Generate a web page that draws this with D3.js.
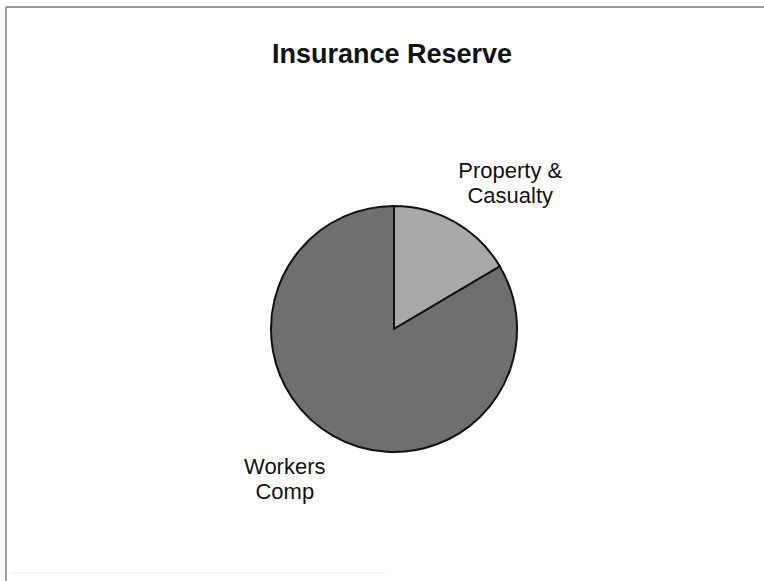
<!DOCTYPE html>
<html>
<head>
<meta charset="utf-8">
<script src="https://cdn.jsdelivr.net/npm/d3@7"></script>
<style>
  html, body { margin: 0; padding: 0; background: #fff; }
  svg { display: block; font-family: "Liberation Sans", Arial, sans-serif; }
</style>
</head>
<body>
<svg id="chart"></svg>
<script>
// data
const categories = ["Property & Casualty", "Workers Comp"];
const labelLines = [["Property &", "Casualty"], ["Workers", "Comp"]];
const values = [16.5, 83.5];
const colors = ["#a8a8a8", "#6f6f6f"];

const width = 764, height = 581;
const cx = 394, cy = 329, radius = 123;

const svg = d3.select("#chart")
    .attr("width", width)
    .attr("height", height);

// frame lines (chart border)
svg.append("line")
    .attr("x1", 6).attr("y1", 7).attr("x2", width).attr("y2", 7)
    .attr("stroke", "#9a9a9a").attr("stroke-width", 2);
svg.append("line")
    .attr("x1", 6).attr("y1", 7).attr("x2", 6).attr("y2", height)
    .attr("stroke", "#a0a0a0").attr("stroke-width", 2);
svg.append("line")
    .attr("x1", 10).attr("y1", 573).attr("x2", 385).attr("y2", 573)
    .attr("stroke", "#ececec").attr("stroke-width", 1);

// title
svg.append("text")
    .attr("x", 392)
    .attr("y", 63)
    .attr("text-anchor", "middle")
    .attr("font-size", 27)
    .attr("font-weight", "bold")
    .attr("fill", "#111")
    .text("Insurance Reserve");

const pie = d3.pie().sort(null).value(d => d)(values);
const arc = d3.arc().innerRadius(0).outerRadius(radius);
const labelArc = d3.arc().innerRadius(170).outerRadius(170);

const g = svg.append("g").attr("transform", `translate(${cx},${cy})`);

g.selectAll("path")
    .data(pie)
    .join("path")
    .attr("d", arc)
    .attr("fill", (d, i) => colors[i])
    .attr("stroke", "#111")
    .attr("stroke-width", 2)
    .attr("stroke-linejoin", "round");

// labels outside the pie
const labels = g.selectAll("text.lbl")
    .data(pie)
    .join("text")
    .attr("class", "lbl")
    .attr("text-anchor", "middle")
    .attr("font-size", 22)
    .attr("fill", "#111")
    .attr("transform", d => {
        const [x, y] = labelArc.centroid(d);
        const shift = x > 0 ? 32 : -25;
        return `translate(${x + shift},${y})`;
    });

labels.selectAll("tspan")
    .data((d, i) => labelLines[i])
    .join("tspan")
    .attr("x", 0)
    .attr("y", (d, i) => i * 25 - 3)
    .text(d => d);
</script>
</body>
</html>
